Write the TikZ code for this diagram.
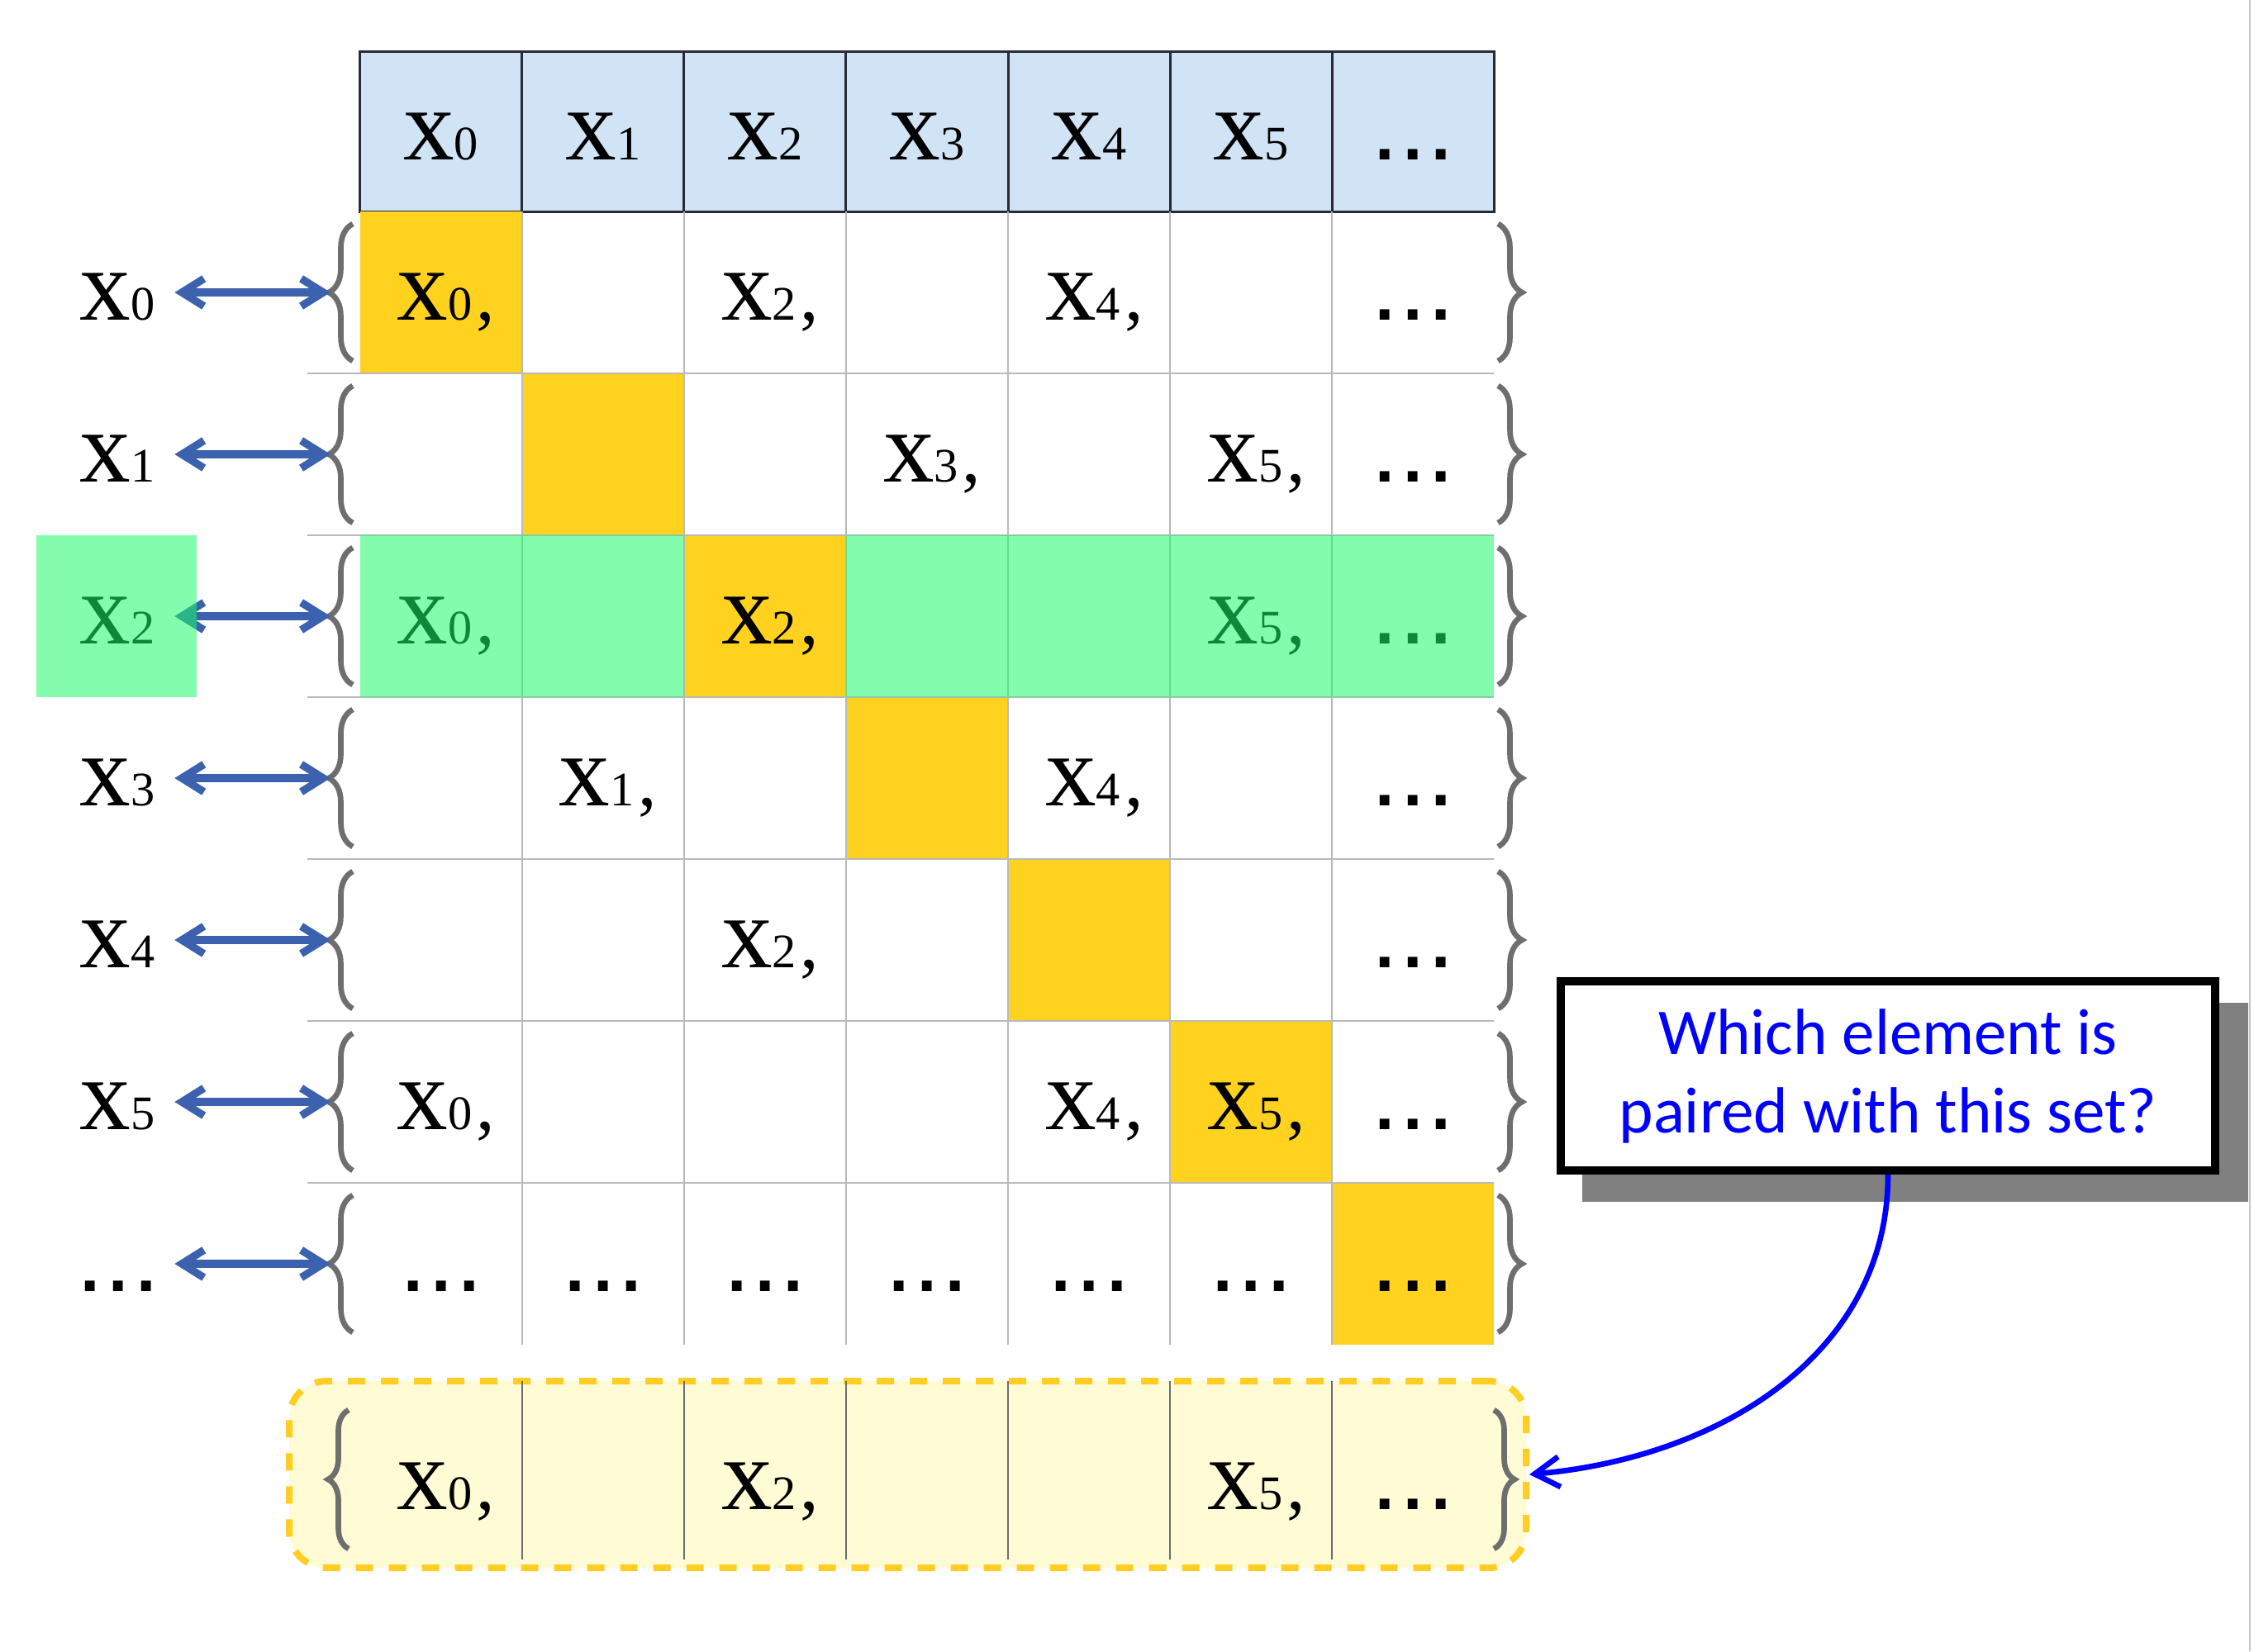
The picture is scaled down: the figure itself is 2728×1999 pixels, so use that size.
\documentclass[tikz,border=0pt]{standalone}
\usepackage{fontspec}
\newfontfamily\calib{Carlito}
\newfontfamily\tms{Liberation Serif}
\newfontfamily\dvs{DejaVu Sans}
\usetikzlibrary{arrows.meta,decorations.pathreplacing}

\definecolor{hdr}{RGB}{208,228,245}
\definecolor{ylw}{RGB}{255,210,32}
\definecolor{grn}{RGB}{28,250,105}
\definecolor{arr}{RGB}{60,98,175}
\definecolor{brc}{RGB}{110,110,110}
\definecolor{gridc}{RGB}{185,185,185}
\definecolor{pale}{RGB}{255,251,212}
\definecolor{dashy}{RGB}{255,205,35}
\definecolor{hline}{RGB}{40,42,55}
\definecolor{shad}{RGB}{128,128,128}

\newcommand{\xv}[1]{{\tms\fontsize{37}{37}\selectfont x}{\tms\fontsize{17.5}{17.5}\selectfont #1}}
\newcommand{\xc}[1]{\xv{#1}{\tms\fontsize{27}{27}\selectfont\kern1.5pt,}}
\newcommand{\dts}{{\dvs\fontsize{20}{20}\bfseries\selectfont .\kern2.6pt.\kern2.6pt.}}

\tikzset{
  txt/.style={anchor=base, inner sep=0pt},
  lab/.style={anchor=base west, inner sep=0pt, text width=33pt},
  gridline/.style={gridc, line width=0.6pt},
  hdrline/.style={hline, line width=0.9pt},
  bracestyle/.style={brc, line width=2pt, decorate, decoration={brace, amplitude=8.7pt}},
  bracesmall/.style={brc, line width=2pt, decorate, decoration={brace, amplitude=7.5pt}},
  dblarrow/.style={arr, line width=2.8pt, {Straight Barb[length=8pt,width=10pt]}-{Straight Barb[length=8pt,width=10pt]}},
  overlay/.style={grn, fill opacity=0.54},
  setbox/.style={rectangle, rounded corners=13.5pt, draw=dashy, fill=pale, line width=2.4pt,
    dash pattern=on 6.3pt off 5.7pt, minimum width=449.1pt, minimum height=67.8pt, inner sep=0pt},
  callout/.style={rectangle, draw=black, fill=white, line width=3pt, minimum width=237.6pt,
    minimum height=68.7pt, inner sep=0pt, align=center, text=blue,
    font=\calib\fontsize{23.7}{28.5}\selectfont},
  callarrow/.style={blue, line width=2pt, -{Straight Barb[length=9pt,width=11pt]}}
}

\begin{document}
\begin{tikzpicture}[x=0.3pt,y=-0.3pt]
\useasboundingbox (0,0) rectangle (2728,1999);
\fill[white] (0,0) rectangle (2728,1999);
\draw[gray!45, line width=0.6pt] (2723,0) -- (2723,1999);

% header
\fill[hdr] (435.6,62) rectangle (1808.3,256);
\foreach \c in {1,...,6} {
  \draw[hdrline] ({435.6+196.1*\c},62) -- ({435.6+196.1*\c},256);
}
\draw[hdrline] (435.6,62) rectangle (1808.3,256);
\foreach \c in {0,...,5} {
  \node[txt] (h\c) at ({533.65+196.1*\c},193) {\xv{\c}};
}
\node[txt] (h6) at (1710.25,193) {\dts};

% yellow diagonal
\foreach \i in {0,...,6} {
  \fill[ylw] ({435.6+196.1*\i},{256+196*\i}) rectangle ({631.7+196.1*\i},{452+196*\i});
}

% grid lines
\foreach \c in {1,...,6} {
  \draw[gridline] ({435.6+196.1*\c},256) -- ({435.6+196.1*\c},1628);
}
\foreach \r in {1,...,6} {
  \draw[gridline] (372,{256+196*\r}) -- (1808.3,{256+196*\r});
}

% cell texts (elements)
\foreach \r/\c/\t in {0/0/{\xc{0}},0/2/{\xc{2}},0/4/{\xc{4}},
  1/3/{\xc{3}},1/5/{\xc{5}},
  2/0/{\xc{0}},2/2/{\xc{2}},2/5/{\xc{5}},
  3/1/{\xc{1}},3/4/{\xc{4}},
  4/2/{\xc{2}},
  5/0/{\xc{0}},5/4/{\xc{4}},5/5/{\xc{5}}} {
  \node[txt] (t\r-\c) at ({540+196.1*\c},{387+196*\r}) {\t};
}
% cell texts (dots)
\foreach \r/\c in {0/6,1/6,2/6,3/6,4/6,5/6,6/0,6/1,6/2,6/3,6/4,6/5,6/6} {
  \node[txt] (t\r-\c) at ({533.65+196.1*\c},{387+196*\r}) {\dts};
}

% braces, labels, arrows
\foreach \r in {0,...,6} {
  \draw[bracestyle] (427,{437+196*\r}) -- (427,{271+196*\r});
  \draw[bracestyle] (1813,{271+196*\r}) -- (1813,{437+196*\r});
  \coordinate (B\r) at (400,{354+196*\r});
}
\foreach \r in {0,...,5} {
  \node[lab] (L\r) at (96,{387+196*\r}) {\xv{\r}};
}
\node[lab] (L6) at (96,1563) {\dts};
\foreach \r in {0,...,6} {
  \draw[dblarrow, shorten <=1.2pt] (L\r.east |- B\r) -- (B\r);
}

% green highlight of row x2
\fill[overlay] (435.6,648) rectangle (827.8,844);
\fill[overlay] (1023.9,648) rectangle (1808.3,844);
\fill[overlay] (44,648) rectangle (238,844);

% bottom set
\node[setbox] (S) at (1098.5,1785) {};
\foreach \c in {1,...,6} {
  \draw[brc, line width=0.6pt] ({435.6+196.1*\c},1672) -- ({435.6+196.1*\c},1888);
}
\draw[bracesmall] (422,1875) -- (422,1707);
\draw[bracesmall] (1808,1707) -- (1808,1875);
\node[txt] (s0) at (540,1827) {\xc{0}};
\node[txt] (s2) at (932.2,1827) {\xc{2}};
\node[txt] (s5) at (1520.5,1827) {\xc{5}};
\node[txt] (s6) at (1710.25,1827) {\dts};

% callout
\fill[shad] (1915,1214) rectangle (2721,1455);
\node[callout] (Q) at (2285,1302.5) {Which element is\\paired with this set?};
\draw[callarrow] (Q.south) .. controls (2285,1640) and (2080,1765) .. (S.east);
\end{tikzpicture}
\end{document}
